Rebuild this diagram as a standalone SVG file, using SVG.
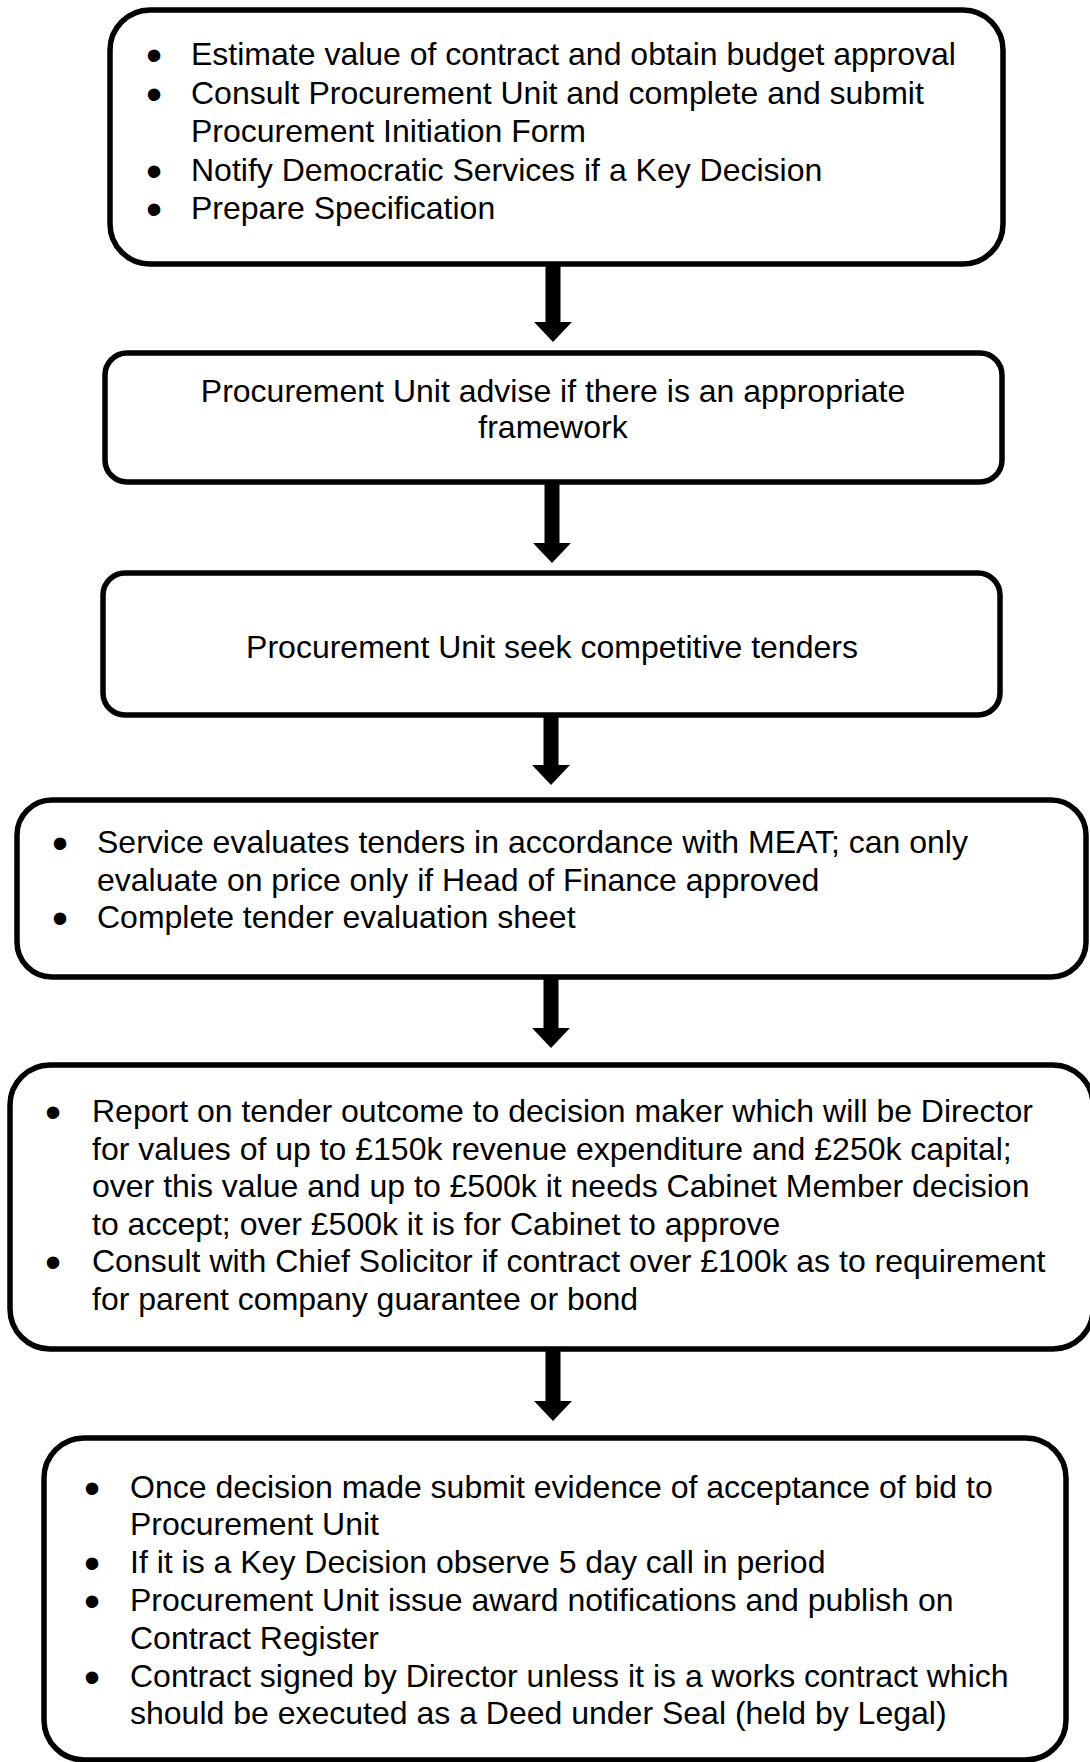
<svg xmlns="http://www.w3.org/2000/svg" width="1090" height="1762" viewBox="0 0 1090 1762">
<style>
.box{fill:#fff;stroke:#000;stroke-width:5.5}
.t{font-family:"Liberation Sans",Arial,sans-serif;font-size:32px;fill:#000}
.b{font-family:"Liberation Sans",Arial,sans-serif;font-size:46px;fill:#000}
.c{text-anchor:middle}
.conn{stroke:#000;stroke-width:15;fill:none}
</style>
<defs>
<marker id="ah" markerUnits="userSpaceOnUse" markerWidth="40" markerHeight="40" refX="0" refY="0" viewBox="-1 -19 21 38" orient="auto" overflow="visible">
<path d="M0,-18 L19,0 L0,18 Z" fill="#000"/>
</marker>
</defs>
<rect width="1090" height="1762" fill="#fff"/>
<g id="connectors">
<line class="conn" x1="553" y1="264" x2="553" y2="322" marker-end="url(#ah)"/>
<line class="conn" x1="552" y1="482" x2="552" y2="543" marker-end="url(#ah)"/>
<line class="conn" x1="551" y1="715" x2="551" y2="765" marker-end="url(#ah)"/>
<line class="conn" x1="551" y1="977" x2="551" y2="1028" marker-end="url(#ah)"/>
<line class="conn" x1="553" y1="1349" x2="553" y2="1401" marker-end="url(#ah)"/>
</g>
<g id="node1">
<rect class="box" x="110" y="10" width="893" height="254" rx="40" ry="40"/>
<text class="b" x="146" y="71">•</text>
<text class="t" x="191" y="65">Estimate value of contract and obtain budget approval</text>
<text class="b" x="146" y="109.5">•</text>
<text class="t" x="191" y="103.5">Consult Procurement Unit and complete and submit</text>
<text class="t" x="191" y="142">Procurement Initiation Form</text>
<text class="b" x="146" y="186.5">•</text>
<text class="t" x="191" y="180.5">Notify Democratic Services if a Key Decision</text>
<text class="b" x="146" y="225">•</text>
<text class="t" x="191" y="219">Prepare Specification</text>
</g>
<g id="node2">
<rect class="box" x="105" y="353" width="897" height="129" rx="22" ry="22"/>
<text class="t c" x="553" y="402">Procurement Unit advise if there is an appropriate</text>
<text class="t c" x="553" y="438">framework</text>
</g>
<g id="node3">
<rect class="box" x="103" y="573" width="897" height="142" rx="22" ry="22"/>
<text class="t c" x="552" y="658">Procurement Unit seek competitive tenders</text>
</g>
<g id="node4">
<rect class="box" x="17" y="800" width="1069" height="177" rx="35" ry="35"/>
<text class="b" x="52" y="859">•</text>
<text class="t" x="97" y="853">Service evaluates tenders in accordance with MEAT; can only</text>
<text class="t" x="97" y="890.5">evaluate on price only if Head of Finance approved</text>
<text class="b" x="52" y="934">•</text>
<text class="t" x="97" y="928">Complete tender evaluation sheet</text>
</g>
<g id="node5">
<rect class="box" x="10" y="1065" width="1083" height="284" rx="40" ry="40"/>
<text class="b" x="45" y="1128">•</text>
<text class="t" x="92" y="1122">Report on tender outcome to decision maker which will be Director</text>
<text class="t" x="92" y="1159.5">for values of up to £150k revenue expenditure and £250k capital;</text>
<text class="t" x="92" y="1197">over this value and up to £500k it needs Cabinet Member decision</text>
<text class="t" x="92" y="1234.5">to accept; over £500k it is for Cabinet to approve</text>
<text class="b" x="45" y="1278">•</text>
<text class="t" x="92" y="1272">Consult with Chief Solicitor if contract over £100k as to requirement</text>
<text class="t" x="92" y="1309.5">for parent company guarantee or bond</text>
</g>
<g id="node6">
<rect class="box" x="44" y="1438" width="1022" height="322" rx="40" ry="40"/>
<text class="b" x="84" y="1504">•</text>
<text class="t" x="130" y="1498">Once decision made submit evidence of acceptance of bid to</text>
<text class="t" x="130" y="1535">Procurement Unit</text>
<text class="b" x="84" y="1579">•</text>
<text class="t" x="130" y="1573">If it is a Key Decision observe 5 day call in period</text>
<text class="b" x="84" y="1617">•</text>
<text class="t" x="130" y="1611">Procurement Unit issue award notifications and publish on</text>
<text class="t" x="130" y="1649">Contract Register</text>
<text class="b" x="84" y="1693">•</text>
<text class="t" x="130" y="1687">Contract signed by Director unless it is a works contract which</text>
<text class="t" x="130" y="1724">should be executed as a Deed under Seal (held by Legal)</text>
</g>
</svg>
